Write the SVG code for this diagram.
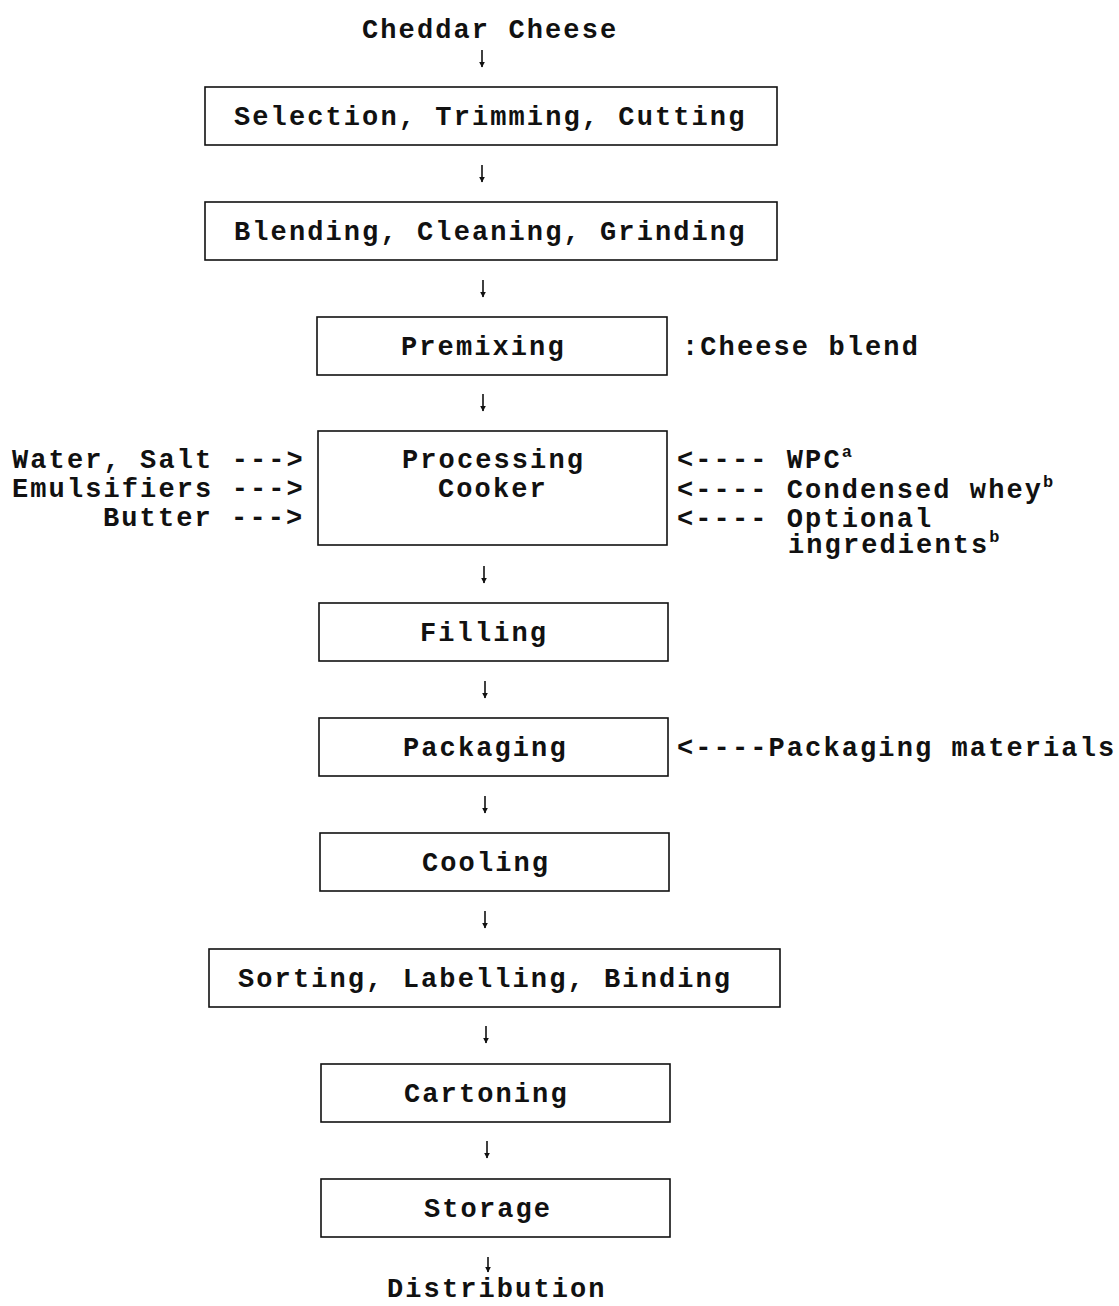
<svg xmlns="http://www.w3.org/2000/svg" width="1119" height="1306" viewBox="0 0 1119 1306">
  <style>
    text { font-family: "Liberation Mono", "Courier New", monospace; font-weight: bold; font-size: 27px; letter-spacing: 2.1px; fill: #111; }
    .sup { font-size: 17px; letter-spacing: 0; }
    .box { fill: none; stroke: #111; stroke-width: 1.6; }
    .flow { stroke: #111; stroke-width: 1.6; fill: none; }
  </style>
  <defs>
    <marker id="head" viewBox="0 0 10 10" refX="9" refY="5" markerWidth="6" markerHeight="6" markerUnits="userSpaceOnUse" orient="auto">
      <path d="M0,0 L10,5 L0,10 Z" fill="#111"/>
    </marker>
  </defs>
  <rect width="1119" height="1306" fill="#fff"/>

  <!-- start and end labels -->
  <g id="source"><text x="362" y="38">Cheddar Cheese</text></g>
  <g id="distribution"><text x="387" y="1297">Distribution</text></g>

  <!-- process steps -->
  <g id="selection">
    <rect class="box" x="205" y="87" width="572" height="58"/>
    <text x="234" y="125">Selection, Trimming, Cutting</text>
  </g>
  <g id="blending">
    <rect class="box" x="205" y="202" width="572" height="58"/>
    <text x="234" y="240">Blending, Cleaning, Grinding</text>
  </g>
  <g id="premixing">
    <rect class="box" x="317" y="317" width="350" height="58"/>
    <text x="401" y="355">Premixing</text>
    <text x="682" y="355">:Cheese blend</text>
  </g>
  <g id="cooker">
    <rect class="box" x="318" y="431" width="349" height="114"/>
    <text x="402" y="468">Processing</text>
    <text x="438" y="497">Cooker</text>
  </g>
  <g id="filling">
    <rect class="box" x="319" y="603" width="349" height="58"/>
    <text x="420" y="641">Filling</text>
  </g>
  <g id="packaging">
    <rect class="box" x="319" y="718" width="349" height="58"/>
    <text x="403" y="756">Packaging</text>
    <text x="677" y="756">&lt;----Packaging materials</text>
  </g>
  <g id="cooling">
    <rect class="box" x="320" y="833" width="349" height="58"/>
    <text x="422" y="871">Cooling</text>
  </g>
  <g id="sorting">
    <rect class="box" x="209" y="949" width="571" height="58"/>
    <text x="238" y="987">Sorting, Labelling, Binding</text>
  </g>
  <g id="cartoning">
    <rect class="box" x="321" y="1064" width="349" height="58"/>
    <text x="404" y="1102">Cartoning</text>
  </g>
  <g id="storage">
    <rect class="box" x="321" y="1179" width="349" height="58"/>
    <text x="424" y="1217">Storage</text>
  </g>

  <!-- ingredient inputs to the cooker -->
  <g id="inputs-left">
    <text x="12" y="468">Water, Salt ---&gt;</text>
    <text x="12" y="497">Emulsifiers ---&gt;</text>
    <text x="103" y="526">Butter ---&gt;</text>
  </g>
  <g id="inputs-right">
    <text x="677" y="468">&lt;---- WPC<tspan class="sup" dy="-11">a</tspan></text>
    <text x="677" y="498">&lt;---- Condensed whey<tspan class="sup" dy="-11">b</tspan></text>
    <text x="677" y="527">&lt;---- Optional<tspan x="788" y="553">ingredients</tspan><tspan class="sup" dy="-11">b</tspan></text>
  </g>

  <!-- flow arrows -->
  <g id="connectors">
    <path class="flow" marker-end="url(#head)" d="M482,50 V67"/>
    <path class="flow" marker-end="url(#head)" d="M482,165 V182"/>
    <path class="flow" marker-end="url(#head)" d="M483,280 V297"/>
    <path class="flow" marker-end="url(#head)" d="M483,394 V411"/>
    <path class="flow" marker-end="url(#head)" d="M484,566 V583"/>
    <path class="flow" marker-end="url(#head)" d="M485,681 V698"/>
    <path class="flow" marker-end="url(#head)" d="M485,796 V813"/>
    <path class="flow" marker-end="url(#head)" d="M485,911 V928"/>
    <path class="flow" marker-end="url(#head)" d="M486,1026 V1043"/>
    <path class="flow" marker-end="url(#head)" d="M487,1141 V1158"/>
    <path class="flow" marker-end="url(#head)" d="M488,1257 V1272"/>
  </g>
</svg>
